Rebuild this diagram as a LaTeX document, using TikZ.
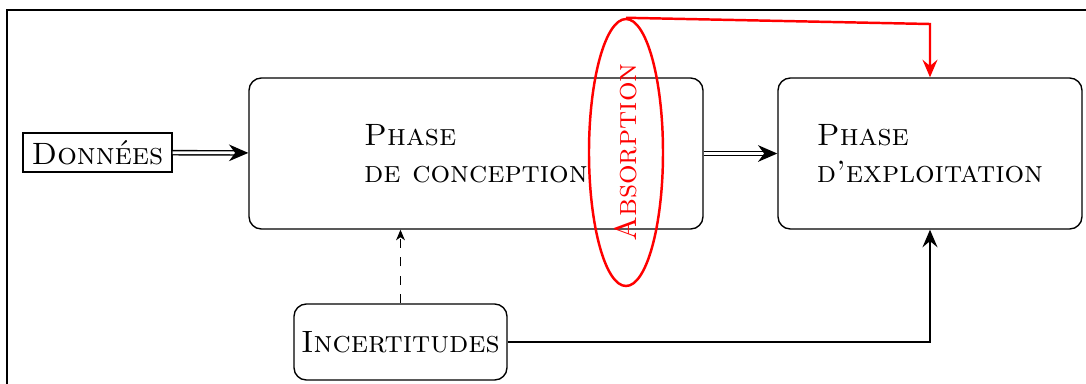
\documentclass[tikz,border=0pt]{standalone}
\usepackage{graphicx}
\usetikzlibrary{arrows.meta,shapes.geometric,calc}
\begin{document}
\begin{tikzpicture}[x=0.0114cm,y=-0.0114cm,
  box/.style={draw, rounded corners=4pt, line width=0.45pt, align=left, inner sep=0pt},
  plainbox/.style={draw, line width=0.45pt, inner sep=0pt},
  dbl/.style={double, line width=0.45pt, double distance=0.9pt, -{Stealth[length=2.2mm,width=1.9mm,inset=0.7mm,line width=0.4pt]}},
  solidarrow/.style={line width=0.8pt, -{Stealth[length=2mm,width=1.7mm,inset=0.7mm]}},
  redarrow/.style={red, line width=0.8pt, -{Stealth[length=2mm,width=1.7mm,inset=0.7mm]}},
  dasharrow/.style={dashed, line width=0.4pt, -{Stealth[length=1.2mm,width=1mm,inset=0.35mm]}}]
\useasboundingbox (0,0) rectangle (1086,383);
\clip (0,0) rectangle (1086,383);
\draw[line width=0.45pt] (7,10) rectangle (1100,400);

\node[plainbox, minimum width=149*0.0114cm, minimum height=39*0.0114cm] (don) at (97.5,152.5) {\textsc{Données}};
\node[box, minimum width=454*0.0114cm, minimum height=151*0.0114cm] (conc) at (476,153.5) {\textsc{Phase}\\\textsc{de conception}};
\node[box, minimum width=304*0.0114cm, minimum height=151*0.0114cm] (expl) at (930,153.5) {\textsc{Phase}\\\textsc{d'exploitation}};
\node[box, minimum width=213*0.0114cm, minimum height=76*0.0114cm] (inc) at (400.5,342) {\textsc{Incertitudes}};
\node[ellipse, draw=red, line width=0.8pt, minimum width=74*0.0114cm, minimum height=267*0.0114cm, inner sep=0pt] (abs) at (626,152.5) {};
\node[text=red, inner sep=0pt] (abstxt) at (abs.center) {\rotatebox{90}{\textsc{Absorption}}};

\draw[dbl] (don) -- (conc);
\draw[dbl] (conc) -- (expl);
\draw[dasharrow] (inc.north) -- (inc.north |- conc.south);
\draw[solidarrow] (inc.east) -| (expl.south);
\coordinate (rc) at ($(expl.north |- 0,24)$);
\draw[redarrow] (abs.north) -- (rc) -- (expl.north);
\end{tikzpicture}
\end{document}
